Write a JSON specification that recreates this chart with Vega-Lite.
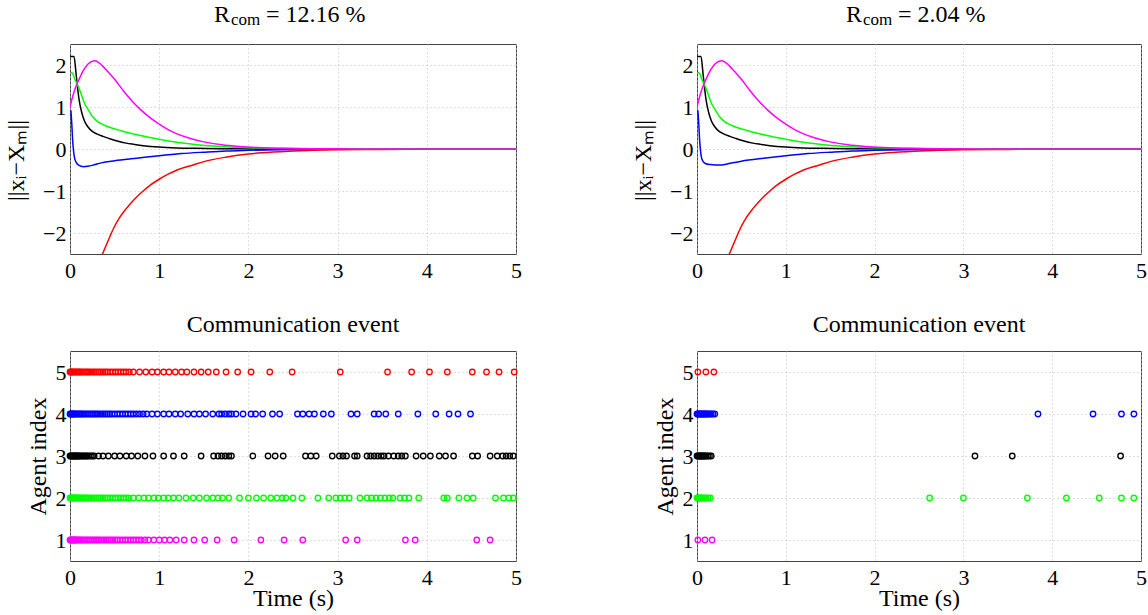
{
  "$schema": "https://vega.github.io/schema/vega-lite/v6.json",
  "background": "white",
  "padding": {"left": 4, "top": 2, "right": 0, "bottom": 0},
  "bounds": "flush",
  "columns": 2,
  "spacing": {"row": 97, "column": 181},
  "datasets": {
    "curves": [
      {"c":"AB","a":5,"t":0.2,"v":-3.4},{"c":"AB","a":5,"t":0.3,"v":-2.8},{"c":"AB","a":5,"t":0.37,"v":-2.47},{"c":"AB","a":5,"t":0.45,"v":-2.07},{"c":"AB","a":5,"t":0.5,"v":-1.84},{"c":"AB","a":5,"t":0.55,"v":-1.65},{"c":"AB","a":5,"t":0.63,"v":-1.42},{"c":"AB","a":5,"t":0.72,"v":-1.2},{"c":"AB","a":5,"t":0.82,"v":-1.0},{"c":"AB","a":5,"t":0.9,"v":-0.86},{"c":"AB","a":5,"t":1.0,"v":-0.72},{"c":"AB","a":5,"t":1.1,"v":-0.6},{"c":"AB","a":5,"t":1.2,"v":-0.5},{"c":"AB","a":5,"t":1.38,"v":-0.38},{"c":"AB","a":5,"t":1.5,"v":-0.3},{"c":"AB","a":5,"t":1.76,"v":-0.19},{"c":"AB","a":5,"t":2.0,"v":-0.12},{"c":"AB","a":5,"t":2.15,"v":-0.09},{"c":"AB","a":5,"t":2.5,"v":-0.05},{"c":"AB","a":5,"t":3.0,"v":-0.02},{"c":"AB","a":5,"t":3.5,"v":-0.01},{"c":"AB","a":5,"t":4.0,"v":-0.004},{"c":"AB","a":5,"t":5.0,"v":0},
      {"c":"A","a":4,"t":0.01,"v":0.92},{"c":"A","a":4,"t":0.02,"v":0.6},{"c":"A","a":4,"t":0.03,"v":0.2},{"c":"A","a":4,"t":0.04,"v":-0.05},{"c":"A","a":4,"t":0.05,"v":-0.2},{"c":"A","a":4,"t":0.07,"v":-0.32},{"c":"A","a":4,"t":0.1,"v":-0.39},{"c":"A","a":4,"t":0.15,"v":-0.42},{"c":"A","a":4,"t":0.2,"v":-0.41},{"c":"A","a":4,"t":0.25,"v":-0.39},{"c":"A","a":4,"t":0.35,"v":-0.33},{"c":"A","a":4,"t":0.5,"v":-0.28},{"c":"A","a":4,"t":0.75,"v":-0.22},{"c":"A","a":4,"t":1.0,"v":-0.16},{"c":"A","a":4,"t":1.25,"v":-0.11},{"c":"A","a":4,"t":1.5,"v":-0.075},{"c":"A","a":4,"t":1.75,"v":-0.045},{"c":"A","a":4,"t":2.0,"v":-0.03},{"c":"A","a":4,"t":2.5,"v":-0.01},{"c":"A","a":4,"t":3.0,"v":-0.003},{"c":"A","a":4,"t":5.0,"v":0},
      {"c":"B","a":4,"t":0.01,"v":0.92},{"c":"B","a":4,"t":0.02,"v":0.6},{"c":"B","a":4,"t":0.03,"v":0.2},{"c":"B","a":4,"t":0.04,"v":-0.05},{"c":"B","a":4,"t":0.05,"v":-0.2},{"c":"B","a":4,"t":0.07,"v":-0.3},{"c":"B","a":4,"t":0.1,"v":-0.35},{"c":"B","a":4,"t":0.15,"v":-0.37},{"c":"B","a":4,"t":0.2,"v":-0.38},{"c":"B","a":4,"t":0.28,"v":-0.38},{"c":"B","a":4,"t":0.35,"v":-0.35},{"c":"B","a":4,"t":0.5,"v":-0.29},{"c":"B","a":4,"t":0.75,"v":-0.22},{"c":"B","a":4,"t":1.0,"v":-0.16},{"c":"B","a":4,"t":1.25,"v":-0.11},{"c":"B","a":4,"t":1.5,"v":-0.075},{"c":"B","a":4,"t":1.75,"v":-0.045},{"c":"B","a":4,"t":2.0,"v":-0.03},{"c":"B","a":4,"t":2.5,"v":-0.01},{"c":"B","a":4,"t":3.0,"v":-0.003},{"c":"B","a":4,"t":5.0,"v":0},
      {"c":"AB","a":3,"t":0,"v":2.2},{"c":"AB","a":3,"t":0.045,"v":2.2},{"c":"AB","a":3,"t":0.07,"v":1.75},{"c":"AB","a":3,"t":0.1,"v":1.2},{"c":"AB","a":3,"t":0.13,"v":0.88},{"c":"AB","a":3,"t":0.16,"v":0.68},{"c":"AB","a":3,"t":0.2,"v":0.53},{"c":"AB","a":3,"t":0.25,"v":0.42},{"c":"AB","a":3,"t":0.3,"v":0.36},{"c":"AB","a":3,"t":0.37,"v":0.3},{"c":"AB","a":3,"t":0.44,"v":0.25},{"c":"AB","a":3,"t":0.53,"v":0.19},{"c":"AB","a":3,"t":0.63,"v":0.14},{"c":"AB","a":3,"t":0.72,"v":0.11},{"c":"AB","a":3,"t":0.82,"v":0.08},{"c":"AB","a":3,"t":1.0,"v":0.045},{"c":"AB","a":3,"t":1.2,"v":0.025},{"c":"AB","a":3,"t":1.4,"v":0.015},{"c":"AB","a":3,"t":1.7,"v":0.007},{"c":"AB","a":3,"t":2.0,"v":0.003},{"c":"AB","a":3,"t":2.5,"v":0.001},{"c":"AB","a":3,"t":5.0,"v":0},
      {"c":"AB","a":2,"t":0.01,"v":1.82},{"c":"AB","a":2,"t":0.03,"v":1.8},{"c":"AB","a":2,"t":0.05,"v":1.68},{"c":"AB","a":2,"t":0.08,"v":1.55},{"c":"AB","a":2,"t":0.1,"v":1.45},{"c":"AB","a":2,"t":0.13,"v":1.28},{"c":"AB","a":2,"t":0.16,"v":1.1},{"c":"AB","a":2,"t":0.2,"v":0.95},{"c":"AB","a":2,"t":0.25,"v":0.78},{"c":"AB","a":2,"t":0.3,"v":0.67},{"c":"AB","a":2,"t":0.37,"v":0.58},{"c":"AB","a":2,"t":0.45,"v":0.51},{"c":"AB","a":2,"t":0.55,"v":0.45},{"c":"AB","a":2,"t":0.63,"v":0.4},{"c":"AB","a":2,"t":0.75,"v":0.34},{"c":"AB","a":2,"t":0.88,"v":0.28},{"c":"AB","a":2,"t":1.0,"v":0.23},{"c":"AB","a":2,"t":1.2,"v":0.16},{"c":"AB","a":2,"t":1.4,"v":0.11},{"c":"AB","a":2,"t":1.6,"v":0.07},{"c":"AB","a":2,"t":1.8,"v":0.045},{"c":"AB","a":2,"t":2.0,"v":0.03},{"c":"AB","a":2,"t":2.3,"v":0.015},{"c":"AB","a":2,"t":2.6,"v":0.007},{"c":"AB","a":2,"t":3.0,"v":0.003},{"c":"AB","a":2,"t":5.0,"v":0},
      {"c":"AB","a":1,"t":0,"v":1.0},{"c":"AB","a":1,"t":0.03,"v":1.25},{"c":"AB","a":1,"t":0.06,"v":1.45},{"c":"AB","a":1,"t":0.1,"v":1.65},{"c":"AB","a":1,"t":0.15,"v":1.87},{"c":"AB","a":1,"t":0.2,"v":2.02},{"c":"AB","a":1,"t":0.25,"v":2.09},{"c":"AB","a":1,"t":0.28,"v":2.1},{"c":"AB","a":1,"t":0.32,"v":2.06},{"c":"AB","a":1,"t":0.4,"v":1.9},{"c":"AB","a":1,"t":0.5,"v":1.66},{"c":"AB","a":1,"t":0.6,"v":1.38},{"c":"AB","a":1,"t":0.7,"v":1.13},{"c":"AB","a":1,"t":0.8,"v":0.92},{"c":"AB","a":1,"t":0.9,"v":0.74},{"c":"AB","a":1,"t":1.0,"v":0.59},{"c":"AB","a":1,"t":1.1,"v":0.46},{"c":"AB","a":1,"t":1.2,"v":0.36},{"c":"AB","a":1,"t":1.35,"v":0.25},{"c":"AB","a":1,"t":1.5,"v":0.17},{"c":"AB","a":1,"t":1.7,"v":0.1},{"c":"AB","a":1,"t":1.9,"v":0.06},{"c":"AB","a":1,"t":2.1,"v":0.035},{"c":"AB","a":1,"t":2.4,"v":0.015},{"c":"AB","a":1,"t":2.8,"v":0.005},{"c":"AB","a":1,"t":3.2,"v":0.002},{"c":"AB","a":1,"t":5.0,"v":0}
    ],
    "events": [
      {"c":"A","a":5,"t":0},{"c":"A","a":5,"t":0.01},{"c":"A","a":5,"t":0.02},{"c":"A","a":5,"t":0.03},{"c":"A","a":5,"t":0.045},{"c":"A","a":5,"t":0.06},{"c":"A","a":5,"t":0.075},{"c":"A","a":5,"t":0.09},{"c":"A","a":5,"t":0.105},{"c":"A","a":5,"t":0.12},{"c":"A","a":5,"t":0.14},{"c":"A","a":5,"t":0.16},{"c":"A","a":5,"t":0.18},{"c":"A","a":5,"t":0.2},{"c":"A","a":5,"t":0.22},{"c":"A","a":5,"t":0.245},{"c":"A","a":5,"t":0.27},{"c":"A","a":5,"t":0.295},{"c":"A","a":5,"t":0.32},{"c":"A","a":5,"t":0.345},{"c":"A","a":5,"t":0.37},{"c":"A","a":5,"t":0.395},{"c":"A","a":5,"t":0.42},{"c":"A","a":5,"t":0.45},{"c":"A","a":5,"t":0.48},{"c":"A","a":5,"t":0.51},{"c":"A","a":5,"t":0.54},{"c":"A","a":5,"t":0.57},{"c":"A","a":5,"t":0.6},{"c":"A","a":5,"t":0.63},{"c":"A","a":5,"t":0.665},{"c":"A","a":5,"t":0.71},{"c":"A","a":5,"t":0.78},{"c":"A","a":5,"t":0.85},{"c":"A","a":5,"t":0.92},{"c":"A","a":5,"t":0.98},{"c":"A","a":5,"t":1.05},{"c":"A","a":5,"t":1.11},{"c":"A","a":5,"t":1.18},{"c":"A","a":5,"t":1.25},{"c":"A","a":5,"t":1.31},{"c":"A","a":5,"t":1.39},{"c":"A","a":5,"t":1.47},{"c":"A","a":5,"t":1.55},{"c":"A","a":5,"t":1.64},{"c":"A","a":5,"t":1.75},{"c":"A","a":5,"t":1.88},{"c":"A","a":5,"t":2.03},{"c":"A","a":5,"t":2.24},{"c":"A","a":5,"t":2.49},{"c":"A","a":5,"t":3.03},{"c":"A","a":5,"t":3.56},{"c":"A","a":5,"t":3.83},{"c":"A","a":5,"t":4.03},{"c":"A","a":5,"t":4.23},{"c":"A","a":5,"t":4.51},{"c":"A","a":5,"t":4.67},{"c":"A","a":5,"t":4.81},{"c":"A","a":5,"t":4.98},
      {"c":"A","a":4,"t":0},{"c":"A","a":4,"t":0.01},{"c":"A","a":4,"t":0.02},{"c":"A","a":4,"t":0.03},{"c":"A","a":4,"t":0.04},{"c":"A","a":4,"t":0.05},{"c":"A","a":4,"t":0.065},{"c":"A","a":4,"t":0.08},{"c":"A","a":4,"t":0.095},{"c":"A","a":4,"t":0.11},{"c":"A","a":4,"t":0.125},{"c":"A","a":4,"t":0.14},{"c":"A","a":4,"t":0.16},{"c":"A","a":4,"t":0.18},{"c":"A","a":4,"t":0.2},{"c":"A","a":4,"t":0.22},{"c":"A","a":4,"t":0.24},{"c":"A","a":4,"t":0.26},{"c":"A","a":4,"t":0.28},{"c":"A","a":4,"t":0.3},{"c":"A","a":4,"t":0.32},{"c":"A","a":4,"t":0.345},{"c":"A","a":4,"t":0.37},{"c":"A","a":4,"t":0.395},{"c":"A","a":4,"t":0.42},{"c":"A","a":4,"t":0.445},{"c":"A","a":4,"t":0.47},{"c":"A","a":4,"t":0.5},{"c":"A","a":4,"t":0.53},{"c":"A","a":4,"t":0.56},{"c":"A","a":4,"t":0.59},{"c":"A","a":4,"t":0.62},{"c":"A","a":4,"t":0.65},{"c":"A","a":4,"t":0.68},{"c":"A","a":4,"t":0.71},{"c":"A","a":4,"t":0.745},{"c":"A","a":4,"t":0.78},{"c":"A","a":4,"t":0.82},{"c":"A","a":4,"t":0.86},{"c":"A","a":4,"t":0.92},{"c":"A","a":4,"t":0.98},{"c":"A","a":4,"t":1.05},{"c":"A","a":4,"t":1.11},{"c":"A","a":4,"t":1.18},{"c":"A","a":4,"t":1.24},{"c":"A","a":4,"t":1.32},{"c":"A","a":4,"t":1.39},{"c":"A","a":4,"t":1.45},{"c":"A","a":4,"t":1.52},{"c":"A","a":4,"t":1.6},{"c":"A","a":4,"t":1.67},{"c":"A","a":4,"t":1.7},{"c":"A","a":4,"t":1.74},{"c":"A","a":4,"t":1.78},{"c":"A","a":4,"t":1.81},{"c":"A","a":4,"t":1.86},{"c":"A","a":4,"t":1.94},{"c":"A","a":4,"t":2.03},{"c":"A","a":4,"t":2.08},{"c":"A","a":4,"t":2.16},{"c":"A","a":4,"t":2.27},{"c":"A","a":4,"t":2.35},{"c":"A","a":4,"t":2.55},{"c":"A","a":4,"t":2.61},{"c":"A","a":4,"t":2.68},{"c":"A","a":4,"t":2.74},{"c":"A","a":4,"t":2.84},{"c":"A","a":4,"t":2.93},{"c":"A","a":4,"t":3.15},{"c":"A","a":4,"t":3.22},{"c":"A","a":4,"t":3.41},{"c":"A","a":4,"t":3.46},{"c":"A","a":4,"t":3.54},{"c":"A","a":4,"t":3.68},{"c":"A","a":4,"t":3.9},{"c":"A","a":4,"t":4.1},{"c":"A","a":4,"t":4.25},{"c":"A","a":4,"t":4.35},{"c":"A","a":4,"t":4.49},
      {"c":"A","a":3,"t":0},{"c":"A","a":3,"t":0.01},{"c":"A","a":3,"t":0.02},{"c":"A","a":3,"t":0.03},{"c":"A","a":3,"t":0.04},{"c":"A","a":3,"t":0.05},{"c":"A","a":3,"t":0.06},{"c":"A","a":3,"t":0.07},{"c":"A","a":3,"t":0.08},{"c":"A","a":3,"t":0.09},{"c":"A","a":3,"t":0.1},{"c":"A","a":3,"t":0.115},{"c":"A","a":3,"t":0.13},{"c":"A","a":3,"t":0.145},{"c":"A","a":3,"t":0.16},{"c":"A","a":3,"t":0.175},{"c":"A","a":3,"t":0.19},{"c":"A","a":3,"t":0.21},{"c":"A","a":3,"t":0.23},{"c":"A","a":3,"t":0.25},{"c":"A","a":3,"t":0.27},{"c":"A","a":3,"t":0.32},{"c":"A","a":3,"t":0.37},{"c":"A","a":3,"t":0.43},{"c":"A","a":3,"t":0.5},{"c":"A","a":3,"t":0.56},{"c":"A","a":3,"t":0.63},{"c":"A","a":3,"t":0.69},{"c":"A","a":3,"t":0.76},{"c":"A","a":3,"t":0.84},{"c":"A","a":3,"t":0.93},{"c":"A","a":3,"t":1.05},{"c":"A","a":3,"t":1.16},{"c":"A","a":3,"t":1.28},{"c":"A","a":3,"t":1.47},{"c":"A","a":3,"t":1.61},{"c":"A","a":3,"t":1.66},{"c":"A","a":3,"t":1.7},{"c":"A","a":3,"t":1.74},{"c":"A","a":3,"t":1.78},{"c":"A","a":3,"t":1.81},{"c":"A","a":3,"t":2.05},{"c":"A","a":3,"t":2.22},{"c":"A","a":3,"t":2.3},{"c":"A","a":3,"t":2.39},{"c":"A","a":3,"t":2.64},{"c":"A","a":3,"t":2.7},{"c":"A","a":3,"t":2.76},{"c":"A","a":3,"t":2.94},{"c":"A","a":3,"t":3.02},{"c":"A","a":3,"t":3.06},{"c":"A","a":3,"t":3.1},{"c":"A","a":3,"t":3.19},{"c":"A","a":3,"t":3.22},{"c":"A","a":3,"t":3.33},{"c":"A","a":3,"t":3.37},{"c":"A","a":3,"t":3.41},{"c":"A","a":3,"t":3.45},{"c":"A","a":3,"t":3.49},{"c":"A","a":3,"t":3.52},{"c":"A","a":3,"t":3.57},{"c":"A","a":3,"t":3.63},{"c":"A","a":3,"t":3.68},{"c":"A","a":3,"t":3.72},{"c":"A","a":3,"t":3.76},{"c":"A","a":3,"t":3.88},{"c":"A","a":3,"t":3.96},{"c":"A","a":3,"t":4.04},{"c":"A","a":3,"t":4.14},{"c":"A","a":3,"t":4.21},{"c":"A","a":3,"t":4.3},{"c":"A","a":3,"t":4.51},{"c":"A","a":3,"t":4.57},{"c":"A","a":3,"t":4.71},{"c":"A","a":3,"t":4.79},{"c":"A","a":3,"t":4.85},{"c":"A","a":3,"t":4.89},{"c":"A","a":3,"t":4.93},{"c":"A","a":3,"t":4.97},
      {"c":"A","a":2,"t":0},{"c":"A","a":2,"t":0.01},{"c":"A","a":2,"t":0.02},{"c":"A","a":2,"t":0.03},{"c":"A","a":2,"t":0.04},{"c":"A","a":2,"t":0.05},{"c":"A","a":2,"t":0.06},{"c":"A","a":2,"t":0.075},{"c":"A","a":2,"t":0.09},{"c":"A","a":2,"t":0.105},{"c":"A","a":2,"t":0.12},{"c":"A","a":2,"t":0.14},{"c":"A","a":2,"t":0.16},{"c":"A","a":2,"t":0.18},{"c":"A","a":2,"t":0.2},{"c":"A","a":2,"t":0.22},{"c":"A","a":2,"t":0.245},{"c":"A","a":2,"t":0.27},{"c":"A","a":2,"t":0.295},{"c":"A","a":2,"t":0.32},{"c":"A","a":2,"t":0.345},{"c":"A","a":2,"t":0.37},{"c":"A","a":2,"t":0.395},{"c":"A","a":2,"t":0.42},{"c":"A","a":2,"t":0.45},{"c":"A","a":2,"t":0.48},{"c":"A","a":2,"t":0.51},{"c":"A","a":2,"t":0.54},{"c":"A","a":2,"t":0.57},{"c":"A","a":2,"t":0.6},{"c":"A","a":2,"t":0.63},{"c":"A","a":2,"t":0.66},{"c":"A","a":2,"t":0.71},{"c":"A","a":2,"t":0.77},{"c":"A","a":2,"t":0.83},{"c":"A","a":2,"t":0.88},{"c":"A","a":2,"t":0.94},{"c":"A","a":2,"t":0.99},{"c":"A","a":2,"t":1.05},{"c":"A","a":2,"t":1.1},{"c":"A","a":2,"t":1.16},{"c":"A","a":2,"t":1.22},{"c":"A","a":2,"t":1.3},{"c":"A","a":2,"t":1.38},{"c":"A","a":2,"t":1.45},{"c":"A","a":2,"t":1.53},{"c":"A","a":2,"t":1.6},{"c":"A","a":2,"t":1.66},{"c":"A","a":2,"t":1.71},{"c":"A","a":2,"t":1.78},{"c":"A","a":2,"t":1.9},{"c":"A","a":2,"t":2.0},{"c":"A","a":2,"t":2.09},{"c":"A","a":2,"t":2.17},{"c":"A","a":2,"t":2.25},{"c":"A","a":2,"t":2.32},{"c":"A","a":2,"t":2.38},{"c":"A","a":2,"t":2.42},{"c":"A","a":2,"t":2.5},{"c":"A","a":2,"t":2.6},{"c":"A","a":2,"t":2.78},{"c":"A","a":2,"t":2.9},{"c":"A","a":2,"t":2.98},{"c":"A","a":2,"t":3.03},{"c":"A","a":2,"t":3.08},{"c":"A","a":2,"t":3.13},{"c":"A","a":2,"t":3.25},{"c":"A","a":2,"t":3.33},{"c":"A","a":2,"t":3.38},{"c":"A","a":2,"t":3.43},{"c":"A","a":2,"t":3.48},{"c":"A","a":2,"t":3.53},{"c":"A","a":2,"t":3.58},{"c":"A","a":2,"t":3.62},{"c":"A","a":2,"t":3.7},{"c":"A","a":2,"t":3.75},{"c":"A","a":2,"t":3.8},{"c":"A","a":2,"t":3.91},{"c":"A","a":2,"t":4.19},{"c":"A","a":2,"t":4.23},{"c":"A","a":2,"t":4.36},{"c":"A","a":2,"t":4.45},{"c":"A","a":2,"t":4.52},{"c":"A","a":2,"t":4.77},{"c":"A","a":2,"t":4.86},{"c":"A","a":2,"t":4.92},{"c":"A","a":2,"t":4.97},
      {"c":"A","a":1,"t":0},{"c":"A","a":1,"t":0.01},{"c":"A","a":1,"t":0.02},{"c":"A","a":1,"t":0.03},{"c":"A","a":1,"t":0.04},{"c":"A","a":1,"t":0.05},{"c":"A","a":1,"t":0.06},{"c":"A","a":1,"t":0.07},{"c":"A","a":1,"t":0.085},{"c":"A","a":1,"t":0.1},{"c":"A","a":1,"t":0.115},{"c":"A","a":1,"t":0.13},{"c":"A","a":1,"t":0.15},{"c":"A","a":1,"t":0.17},{"c":"A","a":1,"t":0.19},{"c":"A","a":1,"t":0.21},{"c":"A","a":1,"t":0.23},{"c":"A","a":1,"t":0.25},{"c":"A","a":1,"t":0.27},{"c":"A","a":1,"t":0.29},{"c":"A","a":1,"t":0.31},{"c":"A","a":1,"t":0.33},{"c":"A","a":1,"t":0.355},{"c":"A","a":1,"t":0.38},{"c":"A","a":1,"t":0.405},{"c":"A","a":1,"t":0.43},{"c":"A","a":1,"t":0.455},{"c":"A","a":1,"t":0.48},{"c":"A","a":1,"t":0.505},{"c":"A","a":1,"t":0.53},{"c":"A","a":1,"t":0.56},{"c":"A","a":1,"t":0.59},{"c":"A","a":1,"t":0.62},{"c":"A","a":1,"t":0.65},{"c":"A","a":1,"t":0.68},{"c":"A","a":1,"t":0.71},{"c":"A","a":1,"t":0.74},{"c":"A","a":1,"t":0.77},{"c":"A","a":1,"t":0.8},{"c":"A","a":1,"t":0.84},{"c":"A","a":1,"t":0.88},{"c":"A","a":1,"t":0.94},{"c":"A","a":1,"t":1.0},{"c":"A","a":1,"t":1.06},{"c":"A","a":1,"t":1.12},{"c":"A","a":1,"t":1.19},{"c":"A","a":1,"t":1.28},{"c":"A","a":1,"t":1.39},{"c":"A","a":1,"t":1.51},{"c":"A","a":1,"t":1.65},{"c":"A","a":1,"t":1.84},{"c":"A","a":1,"t":2.14},{"c":"A","a":1,"t":2.4},{"c":"A","a":1,"t":2.61},{"c":"A","a":1,"t":3.09},{"c":"A","a":1,"t":3.22},{"c":"A","a":1,"t":3.76},{"c":"A","a":1,"t":3.87},{"c":"A","a":1,"t":4.56},{"c":"A","a":1,"t":4.71},
      {"c":"B","a":5,"t":0.01},{"c":"B","a":5,"t":0.1},{"c":"B","a":5,"t":0.19},
      {"c":"B","a":4,"t":0},{"c":"B","a":4,"t":0.01},{"c":"B","a":4,"t":0.02},{"c":"B","a":4,"t":0.03},{"c":"B","a":4,"t":0.04},{"c":"B","a":4,"t":0.05},{"c":"B","a":4,"t":0.06},{"c":"B","a":4,"t":0.07},{"c":"B","a":4,"t":0.08},{"c":"B","a":4,"t":0.09},{"c":"B","a":4,"t":0.1},{"c":"B","a":4,"t":0.115},{"c":"B","a":4,"t":0.13},{"c":"B","a":4,"t":0.145},{"c":"B","a":4,"t":0.16},{"c":"B","a":4,"t":0.18},{"c":"B","a":4,"t":0.2},{"c":"B","a":4,"t":3.84},{"c":"B","a":4,"t":4.46},{"c":"B","a":4,"t":4.78},{"c":"B","a":4,"t":4.92},
      {"c":"B","a":3,"t":0},{"c":"B","a":3,"t":0.01},{"c":"B","a":3,"t":0.02},{"c":"B","a":3,"t":0.03},{"c":"B","a":3,"t":0.04},{"c":"B","a":3,"t":0.05},{"c":"B","a":3,"t":0.06},{"c":"B","a":3,"t":0.07},{"c":"B","a":3,"t":0.08},{"c":"B","a":3,"t":0.09},{"c":"B","a":3,"t":0.1},{"c":"B","a":3,"t":0.12},{"c":"B","a":3,"t":0.14},{"c":"B","a":3,"t":0.16},{"c":"B","a":3,"t":3.13},{"c":"B","a":3,"t":3.55},{"c":"B","a":3,"t":4.77},
      {"c":"B","a":2,"t":0},{"c":"B","a":2,"t":0.01},{"c":"B","a":2,"t":0.02},{"c":"B","a":2,"t":0.03},{"c":"B","a":2,"t":0.04},{"c":"B","a":2,"t":0.05},{"c":"B","a":2,"t":0.06},{"c":"B","a":2,"t":0.08},{"c":"B","a":2,"t":0.1},{"c":"B","a":2,"t":0.125},{"c":"B","a":2,"t":0.15},{"c":"B","a":2,"t":2.62},{"c":"B","a":2,"t":3.0},{"c":"B","a":2,"t":3.72},{"c":"B","a":2,"t":4.16},{"c":"B","a":2,"t":4.53},{"c":"B","a":2,"t":4.78},{"c":"B","a":2,"t":4.92},
      {"c":"B","a":1,"t":0.01},{"c":"B","a":1,"t":0.09},{"c":"B","a":1,"t":0.17}
    ]
  },
  "config": {
    "font": "Liberation Serif",
    "view": {"stroke": "#444444", "strokeWidth": 1},
    "axis": {
      "labelFont": "Liberation Serif", "labelFontSize": 22, "labelColor": "#000000",
      "titleFont": "Liberation Serif", "titleFontSize": 24, "titleFontWeight": "normal", "titleColor": "#000000",
      "domain": false, "ticks": false, "grid": true, "gridColor": "#bdbdbd", "gridDash": [1, 3], "gridWidth": 1,
      "labelFlush": false, "labelOverlap": false
    },
    "axisY": {"labelPadding": 4, "titlePadding": 8},
    "axisX": {"labelPadding": 6, "titlePadding": -2},
    "title": {"font": "Liberation Serif", "fontSize": 24, "fontWeight": "normal", "color": "#000000", "subtitleFont": "Liberation Serif", "subtitleColor": "#000000", "subtitleFontSize": 17}
  },
  "concat": [
    {
      "width": 446, "height": 210,
      "data": {"name": "curves"},
      "transform": [{"filter": "indexof(datum.c, 'A') >= 0"}],
      "title": {"text": "R\u00a0\u00a0\u00a0\u00a0\u00a0 = 12.16 %", "subtitle": "\u200b\u00a0\u00a0\u00a0\u00a0com", "anchor": "start", "frame": "group", "dx": 144, "subtitlePadding": -15, "offset": 16},
      "mark": {"type": "line", "clip": true, "strokeWidth": 1.5, "interpolate": "monotone"},
      "encoding": {
        "x": {"field": "t", "type": "quantitative", "scale": {"domain": [0, 5], "nice": false}, "axis": {"values": [0, 1, 2, 3, 4, 5], "title": null}},
        "y": {"field": "v", "type": "quantitative", "scale": {"domain": [-2.5, 2.5], "nice": false}, "axis": {"values": [-2, -1, 0, 1, 2], "title": "||xᵢ−Xₘ||", "titlePadding": 14, "titleY": 116}},
        "color": {"field": "a", "type": "nominal", "scale": {"domain": [1, 2, 3, 4, 5], "range": ["#ff00ff", "#00ff00", "#000000", "#0000ff", "#ff0000"]}, "legend": null}
      }
    },
    {
      "width": 444, "height": 210,
      "data": {"name": "curves"},
      "transform": [{"filter": "indexof(datum.c, 'B') >= 0"}],
      "title": {"text": "R\u00a0\u00a0\u00a0\u00a0\u00a0 = 2.04 %", "subtitle": "\u200b\u00a0\u00a0\u00a0\u00a0com", "anchor": "start", "frame": "group", "dx": 149, "subtitlePadding": -15, "offset": 16},
      "mark": {"type": "line", "clip": true, "strokeWidth": 1.5, "interpolate": "monotone"},
      "encoding": {
        "x": {"field": "t", "type": "quantitative", "scale": {"domain": [0, 5], "nice": false}, "axis": {"values": [0, 1, 2, 3, 4, 5], "title": null}},
        "y": {"field": "v", "type": "quantitative", "scale": {"domain": [-2.5, 2.5], "nice": false}, "axis": {"values": [-2, -1, 0, 1, 2], "title": "||xᵢ−Xₘ||", "titlePadding": 14, "titleY": 116}},
        "color": {"field": "a", "type": "nominal", "scale": {"domain": [1, 2, 3, 4, 5], "range": ["#ff00ff", "#00ff00", "#000000", "#0000ff", "#ff0000"]}, "legend": null}
      }
    },
    {
      "width": 446, "height": 210,
      "data": {"name": "events"},
      "transform": [{"filter": "datum.c === 'A'"}],
      "title": {"text": "Communication event", "offset": 14},
      "mark": {"type": "point", "shape": "circle", "filled": false, "size": 30, "strokeWidth": 1.3, "opacity": 1},
      "encoding": {
        "x": {"field": "t", "type": "quantitative", "scale": {"domain": [0, 5], "nice": false}, "axis": {"values": [0, 1, 2, 3, 4, 5], "title": "Time (s)"}},
        "y": {"field": "a", "type": "quantitative", "scale": {"domain": [0.5, 5.5], "nice": false}, "axis": {"values": [1, 2, 3, 4, 5], "title": "Agent index", "titlePadding": 5}},
        "color": {"field": "a", "type": "nominal", "scale": {"domain": [1, 2, 3, 4, 5], "range": ["#ff00ff", "#00ff00", "#000000", "#0000ff", "#ff0000"]}, "legend": null}
      }
    },
    {
      "width": 444, "height": 210,
      "data": {"name": "events"},
      "transform": [{"filter": "datum.c === 'B'"}],
      "title": {"text": "Communication event", "offset": 14},
      "mark": {"type": "point", "shape": "circle", "filled": false, "size": 30, "strokeWidth": 1.3, "opacity": 1},
      "encoding": {
        "x": {"field": "t", "type": "quantitative", "scale": {"domain": [0, 5], "nice": false}, "axis": {"values": [0, 1, 2, 3, 4, 5], "title": "Time (s)"}},
        "y": {"field": "a", "type": "quantitative", "scale": {"domain": [0.5, 5.5], "nice": false}, "axis": {"values": [1, 2, 3, 4, 5], "title": "Agent index", "titlePadding": 5}},
        "color": {"field": "a", "type": "nominal", "scale": {"domain": [1, 2, 3, 4, 5], "range": ["#ff00ff", "#00ff00", "#000000", "#0000ff", "#ff0000"]}, "legend": null}
      }
    }
  ]
}
